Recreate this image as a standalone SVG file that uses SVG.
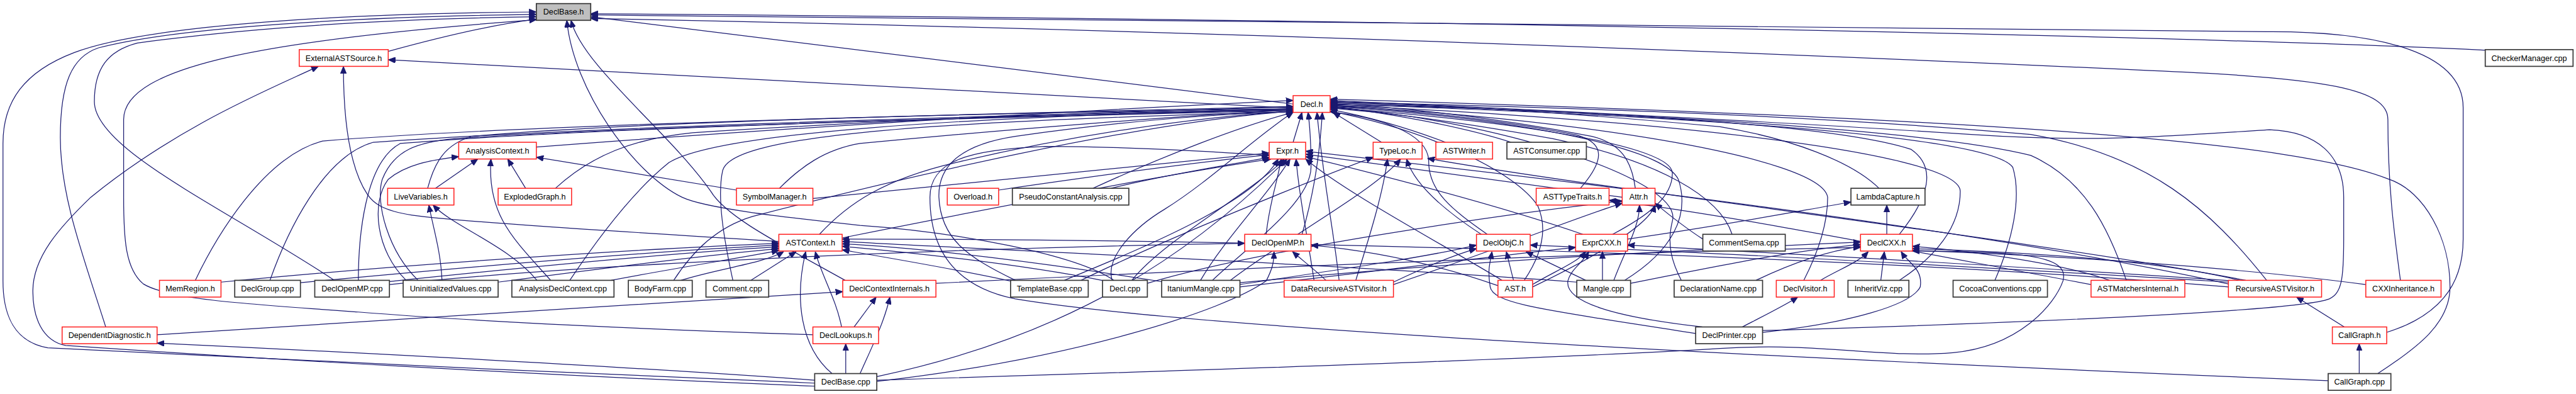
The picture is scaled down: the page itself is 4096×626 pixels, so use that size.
<svg xmlns="http://www.w3.org/2000/svg" width="4096" height="626" viewBox="0 0 4096 626">
<defs>
<marker id="a" viewBox="0 0 12 10" refX="12" refY="5" markerWidth="12" markerHeight="10" markerUnits="userSpaceOnUse" orient="auto"><path d="M0,0 L12,5 L0,10 z" fill="#191970" stroke="#191970" stroke-width="1"/></marker>
</defs>
<style>
.e{fill:none;stroke:#191970;stroke-width:1.3;marker-end:url(#a)}
.r rect{fill:#fff;stroke:#ff2020;stroke-width:1.6}
.k rect{fill:#fff;stroke:#383838;stroke-width:1.8}
.g rect{fill:#bfbfbf;stroke:#383838;stroke-width:1.8}
text{font-family:"Liberation Sans",Arial,sans-serif;font-size:13.3px;fill:#000;text-anchor:middle}
</style>
<rect width="4096" height="626" fill="#fff"/>
<g transform="scale(0.9497)">
<g id="connectors">
<path class="e" d="M650,86 C730,64 820,42 898,32"/>
<path class="e" d="M2165,174 L989,28"/>
<path class="e" d="M4163,84 C3700,62 2500,34 989,23"/>
<path class="e" d="M3996,556 C4080,530 4124,480 4124,400 L4124,180 C4124,80 3960,52 3795,53 C3000,50 2000,36 989,25"/>
<path class="e" d="M4019,469 C4010,400 3998,320 3998,200 C3998,150 3900,130 3600,118 C3000,90 2000,50 989,31"/>
<path class="e" d="M177,547 C140,430 101,330 101,230 C101,140 120,95 165,80 C300,45 600,28 898,24"/>
<path class="e" d="M1364,641 C1000,625 400,600 80,582 C25,572 5,530 5,470 L5,240 C5,170 40,120 124,88 C250,40 600,22 898,20"/>
<path class="e" d="M560,469 C380,350 158,250 158,170 C158,115 180,85 230,72 C450,42 700,31 898,28"/>
<path class="e" d="M1361,560 C1100,552 800,538 600,522 C400,508 280,500 240,475 C210,450 207,400 207,330 L207,200 C207,110 450,66 898,33"/>
<path class="e" d="M1415,469 C1300,405 1215,362 1190,320 C1120,220 975,110 956,34"/>
<path class="e" d="M1865,469 C1800,425 1600,388 1440,377 C1300,362 1180,348 1142,330 C1060,290 960,150 949,34"/>
<path class="e" d="M2165,181 L650,100"/>
<path class="e" d="M1364,646 C900,628 400,598 110,578 C70,570 55,530 55,487 C55,430 100,380 152,330 C300,210 450,150 533,111"/>
<path class="e" d="M1304,404 C1000,385 760,370 690,360 C640,352 625,340 615,325 C585,280 575,200 575,111"/>
<path class="e" d="M898,246 C1300,215 1800,185 2165,168"/>
<path class="e" d="M716,315 C728,270 745,242 790,228 C1100,200 1800,188 2165,178"/>
<path class="e" d="M930,315 C990,260 1060,232 1160,222 C1500,200 1900,186 2165,179"/>
<path class="e" d="M1305,315 C1340,280 1380,250 1440,240 C1700,215 2000,192 2165,184"/>
<path class="e" d="M1830,315 C1950,260 2080,210 2165,188"/>
<path class="e" d="M1372,392 C1420,340 1480,300 1600,272 C1800,225 2000,196 2165,186"/>
<path class="e" d="M327,469 C360,400 440,262 540,236 C900,206 1800,186 2165,182"/>
<path class="e" d="M452,469 C480,390 540,262 625,238 C1000,211 1800,189 2165,183"/>
<path class="e" d="M600,469 C600,400 610,272 670,240 C1000,213 1800,191 2165,184"/>
<path class="e" d="M700,469 C650,420 628,340 640,300 C660,250 700,238 760,232 C1100,210 1800,193 2165,185"/>
<path class="e" d="M954,469 C1000,400 1060,320 1120,272 C1200,222 1600,196 2165,182"/>
<path class="e" d="M1128,469 C1160,420 1200,380 1260,362 C1500,300 1900,205 2165,186"/>
<path class="e" d="M1227,469 C1212,400 1200,330 1210,285 C1225,230 1500,204 2165,187"/>
<path class="e" d="M1700,469 C1620,430 1575,400 1572,330 C1570,270 1620,240 1700,228 C1900,200 2050,190 2165,187"/>
<path class="e" d="M1862,469 C1850,430 1900,380 1950,350 C2030,300 2100,230 2165,188"/>
<path class="e" d="M2030,469 C2080,420 2195,340 2195,280 C2195,240 2193,210 2190,188"/>
<path class="e" d="M2165,238 L2180,188"/>
<path class="e" d="M2242,469 C2235,400 2215,300 2205,188"/>
<path class="e" d="M2180,392 C2195,340 2208,280 2214,188"/>
<path class="e" d="M2313,238 L2232,188"/>
<path class="e" d="M2420,238 C2360,215 2290,195 2227,183"/>
<path class="e" d="M2530,238 C2450,212 2320,188 2227,178"/>
<path class="e" d="M2646,315 C2685,270 2690,240 2640,226 C2500,198 2350,184 2227,176"/>
<path class="e" d="M2738,315 C2732,270 2715,240 2665,228 C2500,196 2350,180 2227,173"/>
<path class="e" d="M3146,315 C3100,270 3000,232 2880,212 C2600,186 2400,175 2227,171"/>
<path class="e" d="M2490,392 C2430,350 2392,320 2392,270 C2392,220 2300,195 2227,187"/>
<path class="e" d="M2700,392 C2760,360 2800,330 2800,290 C2800,240 2500,200 2227,180"/>
<path class="e" d="M2900,392 C2880,330 2780,270 2600,232 C2450,205 2320,188 2227,181"/>
<path class="e" d="M3180,392 C3230,330 3243,280 3200,250 C3050,200 2500,180 2227,175"/>
<path class="e" d="M2552,469 C2585,420 2590,380 2575,345 C2540,290 2400,220 2227,186"/>
<path class="e" d="M2720,469 C2800,420 2830,360 2810,300 C2780,240 2500,195 2227,178"/>
<path class="e" d="M2815,469 C2800,440 2790,410 2800,370 C2820,300 2500,200 2227,179"/>
<path class="e" d="M3020,469 C3040,430 3060,380 3060,330 C3050,260 2600,195 2227,177"/>
<path class="e" d="M3180,469 C3240,430 3282,380 3282,320 C3282,250 2700,195 2227,176"/>
<path class="e" d="M3340,469 C3370,400 3385,330 3370,280 C3330,220 2700,190 2227,174"/>
<path class="e" d="M3560,469 C3530,380 3490,300 3400,260 C3200,210 2600,185 2227,172"/>
<path class="e" d="M3795,469 C3700,350 3600,260 3400,225 C3000,190 2600,180 2227,170"/>
<path class="e" d="M2951,553 C3400,540 3850,520 3900,500 C3920,490 3924,470 3924,400 L3924,330 C3924,260 3880,220 3800,217 C3600,230 3495,238 3300,225 C3000,205 2600,185 2227,168"/>
<path class="e" d="M3981,625 C4050,580 4102,540 4102,480 C4102,400 4060,320 4000,300 C3850,240 3400,200 2227,166"/>
<path class="e" d="M729,315 L800,266"/>
<path class="e" d="M880,315 L850,266"/>
<path class="e" d="M1233,318 L898,263"/>
<path class="e" d="M922,469 C860,400 815,360 822,266"/>
<path class="e" d="M680,469 C630,420 620,340 650,300 C680,275 720,268 768,262"/>
<path class="e" d="M899,469 C850,410 760,380 725,343"/>
<path class="e" d="M740,469 C738,420 725,380 718,343"/>
<path class="e" d="M1361,332 C1700,300 1950,272 2125,256"/>
<path class="e" d="M1672,318 C1850,292 2000,272 2125,259"/>
<path class="e" d="M1860,315 C1950,292 2060,276 2125,263"/>
<path class="e" d="M1410,398 C1700,340 1950,292 2128,266"/>
<path class="e" d="M1782,469 C1900,420 2100,340 2140,266"/>
<path class="e" d="M1895,469 C1950,400 2100,320 2150,266"/>
<path class="e" d="M2010,469 C2050,400 2120,330 2160,266"/>
<path class="e" d="M2200,469 C2190,400 2175,330 2170,266"/>
<path class="e" d="M2120,392 C2125,340 2140,300 2145,266"/>
<path class="e" d="M2650,392 C2500,340 2300,290 2186,262"/>
<path class="e" d="M2515,469 C2400,400 2250,320 2186,266"/>
<path class="e" d="M2716,330 C2500,300 2300,272 2186,258"/>
<path class="e" d="M3731,475 C3300,380 2600,300 2186,253"/>
<path class="e" d="M1468,630 C1800,560 2000,420 2155,266"/>
<path class="e" d="M3898,637 C3000,600 2000,550 1700,500 C1600,480 1557,420 1557,330 C1557,270 1620,250 1750,245 C1900,245 2050,255 2125,260"/>
<path class="e" d="M2270,469 C2285,420 2315,330 2323,266"/>
<path class="e" d="M1810,469 C1950,400 2200,300 2299,263"/>
<path class="e" d="M3760,469 C3400,400 2700,320 2390,265"/>
<path class="e" d="M2480,392 C2400,340 2365,300 2355,266"/>
<path class="e" d="M2060,469 C2150,400 2300,320 2345,266"/>
<path class="e" d="M370,472 C700,440 1100,415 1304,407"/>
<path class="e" d="M503,473 C800,445 1100,420 1304,410"/>
<path class="e" d="M652,471 C900,445 1150,422 1304,413"/>
<path class="e" d="M834,472 C1000,450 1200,425 1304,416"/>
<path class="e" d="M1023,469 C1150,445 1250,430 1304,419"/>
<path class="e" d="M1140,469 C1200,450 1280,440 1312,421"/>
<path class="e" d="M1257,469 L1333,421"/>
<path class="e" d="M1409,547 C1400,500 1375,460 1365,421"/>
<path class="e" d="M1393,625 C1340,580 1330,500 1349,421"/>
<path class="e" d="M1700,472 C1600,450 1480,430 1410,418"/>
<path class="e" d="M1850,470 C1700,440 1500,420 1410,412"/>
<path class="e" d="M1950,472 C1750,440 1550,415 1410,408"/>
<path class="e" d="M2640,472 C2200,440 1700,420 1410,404"/>
<path class="e" d="M3731,480 C3000,420 2000,400 1410,400"/>
<path class="e" d="M652,476 C1000,440 1600,415 2084,407"/>
<path class="e" d="M2220,469 C2200,450 2180,435 2164,421"/>
<path class="e" d="M1468,638 C1800,600 2050,520 2120,470 C2130,450 2133,440 2133,421"/>
<path class="e" d="M2508,478 C2400,440 2300,420 2195,410"/>
<path class="e" d="M2534,469 L2522,421"/>
<path class="e" d="M2655,469 L2555,421"/>
<path class="e" d="M2839,558 C2600,520 2500,510 2495,480 C2490,450 2495,440 2498,421"/>
<path class="e" d="M2333,472 C2400,440 2440,425 2472,416"/>
<path class="e" d="M2076,476 C2250,450 2400,428 2472,410"/>
<path class="e" d="M3731,472 C3200,440 2800,420 2562,410"/>
<path class="e" d="M2683,469 L2683,421"/>
<path class="e" d="M2566,476 C2600,455 2640,440 2655,421"/>
<path class="e" d="M2850,547 C2700,530 2620,505 2625,470 C2630,450 2650,440 2660,421"/>
<path class="e" d="M2076,480 C2300,455 2500,428 2638,414"/>
<path class="e" d="M3740,470 C3300,440 2900,420 2725,410"/>
<path class="e" d="M3048,469 C3080,450 3110,440 3128,421"/>
<path class="e" d="M3149,469 L3155,421"/>
<path class="e" d="M2951,556 C3100,540 3200,510 3215,480 C3220,450 3195,440 3183,421"/>
<path class="e" d="M3532,469 C3450,440 3300,420 3202,412"/>
<path class="e" d="M3750,469 C3600,432 3350,420 3202,416"/>
<path class="e" d="M3961,476 C3700,442 3400,426 3202,419"/>
<path class="e" d="M2940,469 C3000,440 3060,420 3115,412"/>
<path class="e" d="M2730,474 C2900,440 3000,420 3115,409"/>
<path class="e" d="M2076,473 C2500,432 2900,415 3115,405"/>
<path class="e" d="M1468,636 C2000,620 2600,600 2880,583 C3050,572 3150,600 3270,590 C3380,580 3440,510 3454,470 C3465,430 3400,420 3202,420"/>
<path class="e" d="M2725,400 C2900,375 3000,355 3099,338"/>
<path class="e" d="M3159,392 L3159,343"/>
<path class="e" d="M2702,469 C2720,420 2745,380 2745,343"/>
<path class="e" d="M2566,480 C2650,440 2760,380 2771,343"/>
<path class="e" d="M2333,476 C2500,420 2650,360 2716,340"/>
<path class="e" d="M1921,474 C2100,420 2500,360 2716,336"/>
<path class="e" d="M2851,400 C2820,380 2795,360 2771,340"/>
<path class="e" d="M3501,476 C3200,420 2900,360 2694,335"/>
<path class="e" d="M3950,625 L3950,575"/>
<path class="e" d="M3925,547 L3845,497"/>
<path class="e" d="M2917,547 C2950,530 2990,510 3010,497"/>
<path class="e" d="M263,560 C600,540 1100,505 1411,488"/>
<path class="e" d="M1364,636 C1000,610 500,585 263,574"/>
<path class="e" d="M1430,547 L1467,497"/>
<path class="e" d="M1440,625 C1460,580 1480,540 1490,497"/>
<path class="e" d="M1416,625 L1416,575"/>
<path class="e" d="M1567,474 C2200,442 2800,420 3115,414"/>
</g>
<g id="n_DeclBase_h" class="g"><rect x="898" y="6" width="91" height="28"/><text x="943.5" y="24.7">DeclBase.h</text></g>
<g id="n_ExternalASTSource_h" class="r"><rect x="501" y="83" width="149" height="28"/><text x="575.5" y="101.7">ExternalASTSource.h</text></g>
<g id="n_CheckerManager_cpp" class="k"><rect x="4161" y="83" width="147" height="28"/><text x="4234.5" y="101.7">CheckerManager.cpp</text></g>
<g id="n_Decl_h" class="r"><rect x="2165" y="160" width="62" height="28"/><text x="2196" y="178.7">Decl.h</text></g>
<g id="n_AnalysisContext_h" class="r"><rect x="768" y="238" width="130" height="28"/><text x="833" y="256.7">AnalysisContext.h</text></g>
<g id="n_Expr_h" class="r"><rect x="2125" y="238" width="61" height="28"/><text x="2155.5" y="256.7">Expr.h</text></g>
<g id="n_TypeLoc_h" class="r"><rect x="2299" y="238" width="82" height="28"/><text x="2340" y="256.7">TypeLoc.h</text></g>
<g id="n_ASTWriter_h" class="r"><rect x="2404" y="238" width="95" height="28"/><text x="2451.5" y="256.7">ASTWriter.h</text></g>
<g id="n_ASTConsumer_cpp" class="k"><rect x="2523" y="238" width="133" height="28"/><text x="2589.5" y="256.7">ASTConsumer.cpp</text></g>
<g id="n_LiveVariables_h" class="r"><rect x="649" y="315" width="111" height="28"/><text x="704.5" y="333.7">LiveVariables.h</text></g>
<g id="n_ExplodedGraph_h" class="r"><rect x="834" y="315" width="123" height="28"/><text x="895.5" y="333.7">ExplodedGraph.h</text></g>
<g id="n_SymbolManager_h" class="r"><rect x="1233" y="315" width="128" height="28"/><text x="1297" y="333.7">SymbolManager.h</text></g>
<g id="n_Overload_h" class="r"><rect x="1586" y="315" width="86" height="28"/><text x="1629" y="333.7">Overload.h</text></g>
<g id="n_PseudoConstantAnalysis_cpp" class="k"><rect x="1695" y="315" width="195" height="28"/><text x="1792.5" y="333.7">PseudoConstantAnalysis.cpp</text></g>
<g id="n_ASTTypeTraits_h" class="r"><rect x="2572" y="315" width="122" height="28"/><text x="2633" y="333.7">ASTTypeTraits.h</text></g>
<g id="n_Attr_h" class="r"><rect x="2716" y="315" width="55" height="28"/><text x="2743.5" y="333.7">Attr.h</text></g>
<g id="n_LambdaCapture_h" class="k"><rect x="3099" y="315" width="124" height="28"/><text x="3161" y="333.7">LambdaCapture.h</text></g>
<g id="n_ASTContext_h" class="r"><rect x="1304" y="392" width="106" height="28"/><text x="1357" y="410.7">ASTContext.h</text></g>
<g id="n_DeclOpenMP_h" class="r"><rect x="2084" y="392" width="111" height="28"/><text x="2139.5" y="410.7">DeclOpenMP.h</text></g>
<g id="n_DeclObjC_h" class="r"><rect x="2472" y="392" width="90" height="28"/><text x="2517" y="410.7">DeclObjC.h</text></g>
<g id="n_ExprCXX_h" class="r"><rect x="2638" y="392" width="87" height="28"/><text x="2681.5" y="410.7">ExprCXX.h</text></g>
<g id="n_CommentSema_cpp" class="k"><rect x="2851" y="392" width="138" height="28"/><text x="2920" y="410.7">CommentSema.cpp</text></g>
<g id="n_DeclCXX_h" class="r"><rect x="3115" y="392" width="87" height="28"/><text x="3158.5" y="410.7">DeclCXX.h</text></g>
<g id="n_MemRegion_h" class="r"><rect x="267" y="469" width="103" height="28"/><text x="318.5" y="487.7">MemRegion.h</text></g>
<g id="n_DeclGroup_cpp" class="k"><rect x="393" y="469" width="110" height="28"/><text x="448" y="487.7">DeclGroup.cpp</text></g>
<g id="n_DeclOpenMP_cpp" class="k"><rect x="527" y="469" width="125" height="28"/><text x="589.5" y="487.7">DeclOpenMP.cpp</text></g>
<g id="n_UninitializedValues_cpp" class="k"><rect x="675" y="469" width="159" height="28"/><text x="754.5" y="487.7">UninitializedValues.cpp</text></g>
<g id="n_AnalysisDeclContext_cpp" class="k"><rect x="857" y="469" width="171" height="28"/><text x="942.5" y="487.7">AnalysisDeclContext.cpp</text></g>
<g id="n_BodyFarm_cpp" class="k"><rect x="1052" y="469" width="107" height="28"/><text x="1105.5" y="487.7">BodyFarm.cpp</text></g>
<g id="n_Comment_cpp" class="k"><rect x="1182" y="469" width="105" height="28"/><text x="1234.5" y="487.7">Comment.cpp</text></g>
<g id="n_DeclContextInternals_h" class="r"><rect x="1411" y="469" width="156" height="28"/><text x="1489" y="487.7">DeclContextInternals.h</text></g>
<g id="n_TemplateBase_cpp" class="k"><rect x="1692" y="469" width="130" height="28"/><text x="1757" y="487.7">TemplateBase.cpp</text></g>
<g id="n_Decl_cpp" class="k"><rect x="1846" y="469" width="75" height="28"/><text x="1883.5" y="487.7">Decl.cpp</text></g>
<g id="n_ItaniumMangle_cpp" class="k"><rect x="1945" y="469" width="131" height="28"/><text x="2010.5" y="487.7">ItaniumMangle.cpp</text></g>
<g id="n_DataRecursiveASTVisitor_h" class="r"><rect x="2150" y="469" width="183" height="28"/><text x="2241.5" y="487.7">DataRecursiveASTVisitor.h</text></g>
<g id="n_AST_h" class="r"><rect x="2508" y="469" width="58" height="28"/><text x="2537" y="487.7">AST.h</text></g>
<g id="n_Mangle_cpp" class="k"><rect x="2640" y="469" width="90" height="28"/><text x="2685" y="487.7">Mangle.cpp</text></g>
<g id="n_DeclarationName_cpp" class="k"><rect x="2803" y="469" width="148" height="28"/><text x="2877" y="487.7">DeclarationName.cpp</text></g>
<g id="n_DeclVisitor_h" class="r"><rect x="2974" y="469" width="97" height="28"/><text x="3022.5" y="487.7">DeclVisitor.h</text></g>
<g id="n_InheritViz_cpp" class="k"><rect x="3094" y="469" width="102" height="28"/><text x="3145" y="487.7">InheritViz.cpp</text></g>
<g id="n_CocoaConventions_cpp" class="k"><rect x="3270" y="469" width="158" height="28"/><text x="3349" y="487.7">CocoaConventions.cpp</text></g>
<g id="n_ASTMatchersInternal_h" class="r"><rect x="3501" y="469" width="157" height="28"/><text x="3579.5" y="487.7">ASTMatchersInternal.h</text></g>
<g id="n_RecursiveASTVisitor_h" class="r"><rect x="3731" y="469" width="156" height="28"/><text x="3809" y="487.7">RecursiveASTVisitor.h</text></g>
<g id="n_CXXInheritance_h" class="r"><rect x="3961" y="469" width="126" height="28"/><text x="4024" y="487.7">CXXInheritance.h</text></g>
<g id="n_DependentDiagnostic_h" class="r"><rect x="104" y="547" width="159" height="28"/><text x="183.5" y="565.7">DependentDiagnostic.h</text></g>
<g id="n_DeclLookups_h" class="r"><rect x="1361" y="547" width="110" height="28"/><text x="1416" y="565.7">DeclLookups.h</text></g>
<g id="n_DeclPrinter_cpp" class="k"><rect x="2839" y="547" width="112" height="28"/><text x="2895" y="565.7">DeclPrinter.cpp</text></g>
<g id="n_CallGraph_h" class="r"><rect x="3905" y="547" width="91" height="28"/><text x="3950.5" y="565.7">CallGraph.h</text></g>
<g id="n_DeclBase_cpp" class="k"><rect x="1364" y="625" width="104" height="28"/><text x="1416" y="643.7">DeclBase.cpp</text></g>
<g id="n_CallGraph_cpp" class="k"><rect x="3898" y="625" width="105" height="28"/><text x="3950.5" y="643.7">CallGraph.cpp</text></g>
</g>
</svg>
